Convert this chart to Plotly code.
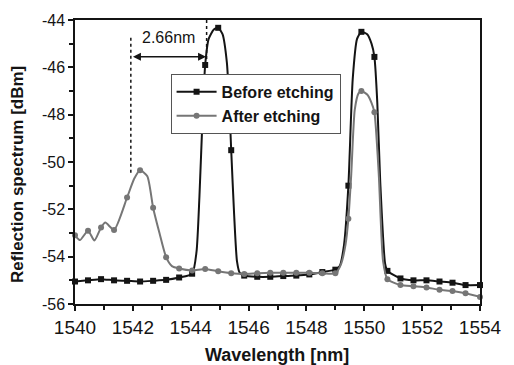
import plotly.graph_objects as go

# ---- data ----
before_wl = [1540.0, 1540.45, 1540.9, 1541.35, 1541.8, 1542.25, 1542.7, 1543.15, 1543.6,
             1544.05, 1544.2, 1544.3, 1544.42, 1544.5, 1544.62, 1544.8, 1544.95, 1545.1,
             1545.25, 1545.33, 1545.4, 1545.5, 1545.6, 1545.7, 1545.85, 1546.3, 1546.75,
             1547.2, 1547.65, 1548.1, 1548.55, 1549.0, 1549.15, 1549.3, 1549.45, 1549.6,
             1549.75, 1549.9, 1550.1, 1550.25, 1550.35, 1550.45, 1550.55, 1550.72, 1550.8,
             1551.25, 1551.7, 1552.15, 1552.6, 1553.05, 1553.5, 1554.0]
before_dbm = [-55.05, -55.0, -54.95, -55.0, -55.02, -55.05, -55.02, -54.98, -54.88,
              -54.72, -53.8, -51.5, -47.8, -45.9, -44.8, -44.4, -44.33, -44.6,
              -45.8, -47.5, -49.5, -52.2, -54.2, -54.7, -54.8, -54.85, -54.85,
              -54.82, -54.8, -54.75, -54.65, -54.55, -54.4, -53.5, -51.0, -46.5,
              -44.8, -44.5, -44.6, -45.0, -45.56, -47.5, -50.8, -54.3, -54.6,
              -54.92, -55.0, -55.0, -55.05, -55.1, -55.2, -55.2]

after_wl = [1540.0, 1540.17, 1540.45, 1540.67, 1540.9, 1541.05, 1541.35, 1541.8, 1542.05,
            1542.25, 1542.5, 1542.7, 1542.92, 1543.15, 1543.35, 1543.6, 1544.05, 1544.5,
            1544.95, 1545.4, 1545.85, 1546.3, 1546.75, 1547.2, 1547.65, 1548.1, 1548.55,
            1549.0, 1549.2, 1549.35, 1549.45, 1549.55, 1549.67, 1549.8, 1549.9, 1550.1,
            1550.25, 1550.35, 1550.5, 1550.65, 1550.8, 1551.25, 1551.7, 1552.15, 1552.6,
            1553.05, 1553.5, 1554.0]
after_dbm = [-53.1, -53.3, -52.9, -53.32, -52.77, -52.56, -52.87, -51.5, -50.7,
             -50.35, -50.6, -51.93, -53.0, -54.02, -54.4, -54.5, -54.58, -54.52,
             -54.62, -54.7, -54.73, -54.7, -54.68, -54.68, -54.68, -54.68, -54.7,
             -54.7, -54.3, -53.5, -52.4, -50.5, -47.8, -47.1, -47.0, -47.15,
             -47.5, -47.9, -50.5, -54.2, -54.95, -55.2, -55.25, -55.3, -55.4,
             -55.45, -55.55, -55.7]

# wavelengths at which the instrument samples are marked
marker_wl = [1540.0, 1540.45, 1540.9, 1541.35, 1541.8, 1542.25, 1542.7, 1543.15, 1543.6,
             1544.05, 1544.5, 1544.95, 1545.4, 1545.85, 1546.3, 1546.75, 1547.2, 1547.65,
             1548.1, 1548.55, 1549.0, 1549.45, 1549.9, 1550.35, 1550.8, 1551.25, 1551.7,
             1552.15, 1552.6, 1553.05, 1553.5, 1554.0]

series_names = ["Before etching", "After etching"]
x_ticks = [1540, 1542, 1544, 1546, 1548, 1550, 1552, 1554]
y_ticks = [-56, -54, -52, -50, -48, -46, -44]

# annotation of the peak shift
shift_left = 1541.93
shift_right = 1544.55
shift_level = -45.55
shift_label = "2.66nm"

FONT = "Liberation Sans, Arial, sans-serif"
BLACK = "#141414"
GRAY = "#767676"


def pick(wl, vals, sel):
    d = dict(zip(wl, vals))
    xs = [w for w in sel if w in d]
    return xs, [d[w] for w in xs]


fig = go.Figure()
series = [
    (before_wl, before_dbm, series_names[0], BLACK, "square", 6),
    (after_wl, after_dbm, series_names[1], GRAY, "circle", 6),
]
for wl, vals, name, col, sym, ms in series:
    fig.add_trace(go.Scatter(x=wl, y=vals, mode="lines", showlegend=False,
                             line=dict(color=col, width=2, shape="spline", smoothing=0.6),
                             hoverinfo="skip"))
    mx, my = pick(wl, vals, marker_wl)
    fig.add_trace(go.Scatter(x=mx, y=my, mode="markers", showlegend=False, cliponaxis=False,
                             marker=dict(color=col, symbol=sym, size=ms)))
    fig.add_trace(go.Scatter(x=[None], y=[None], mode="lines+markers", name=name,
                             line=dict(color=col, width=2),
                             marker=dict(color=col, symbol=sym, size=ms)))

# dotted guides
fig.add_shape(type="line", xref="x", yref="y", x0=shift_left, x1=shift_left, y0=-44.75, y1=-50.45,
              line=dict(color=BLACK, width=1.5, dash="dot"))
fig.add_shape(type="line", xref="x", yref="y", x0=shift_right, x1=shift_right, y0=-44.0, y1=-46.0,
              line=dict(color=BLACK, width=1.5, dash="dot"))
fig.add_annotation(x=shift_right - 0.02, y=shift_level, ax=shift_left + 0.02, ay=shift_level,
                   xref="x", yref="y", axref="x", ayref="y", text="", showarrow=True,
                   arrowhead=2, arrowside="end+start", arrowsize=1, arrowwidth=1.6,
                   arrowcolor=BLACK)
fig.add_annotation(x=(shift_left + shift_right) / 2, y=-44.72, xref="x", yref="y",
                   text=shift_label, showarrow=False,
                   font=dict(family=FONT, size=16, color=BLACK))

# axis titles
fig.add_annotation(x=0.499, y=-0.178, xref="paper", yref="paper", text="<b>Wavelength [nm]</b>",
                   showarrow=False, font=dict(family=FONT, size=18, color=BLACK),
                   xanchor="center", yanchor="middle")
fig.add_annotation(x=-0.142, y=0.456, xref="paper", yref="paper",
                   text="<b>Reflection spectrum [dBm]</b>", textangle=-90,
                   showarrow=False, font=dict(family=FONT, size=17, color=BLACK),
                   xanchor="center", yanchor="middle")

axis_common = dict(showline=True, linecolor=BLACK, linewidth=1.5, mirror=True,
                   showgrid=False, zeroline=False, ticks="outside", ticklen=5,
                   tickwidth=1.5, tickcolor=BLACK)
fig.update_xaxes(range=[x_ticks[0], x_ticks[-1]], tickvals=x_ticks,
                 ticktext=[str(v) for v in x_ticks],
                 tickfont=dict(family=FONT, size=19, color=BLACK),
                 minor=dict(dtick=1, tick0=x_ticks[0], ticks="outside", ticklen=4,
                            tickwidth=1.5, tickcolor=BLACK, showgrid=False),
                 **axis_common)
fig.update_yaxes(range=[y_ticks[0], y_ticks[-1]], tickvals=y_ticks,
                 ticktext=[str(v) for v in y_ticks],
                 tickfont=dict(family=FONT, size=16, color=BLACK),
                 minor=dict(dtick=1, tick0=y_ticks[0], ticks="outside", ticklen=4,
                            tickwidth=1.5, tickcolor=BLACK, showgrid=False),
                 **axis_common)

fig.update_layout(
    width=514, height=365,
    margin=dict(l=75, r=23, t=17, b=61),
    paper_bgcolor="white", plot_bgcolor="white",
    legend=dict(x=0.236, y=0.81, xanchor="left", yanchor="top",
                bgcolor="white", bordercolor="#555555", borderwidth=1,
                font=dict(family=FONT, size=16, color=BLACK, weight="bold"),
                tracegroupgap=0, itemwidth=40),
)

fig.write_html("out.html")
